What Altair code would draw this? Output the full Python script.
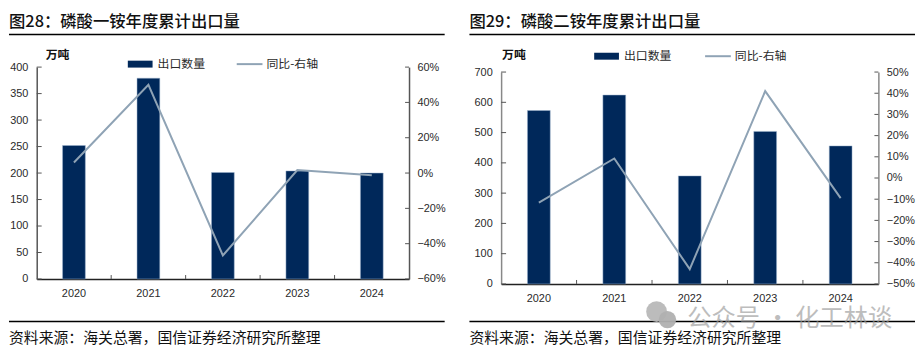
import altair as alt
import pandas as pd

years = ["2020", "2021", "2022", "2023", "2024"]
inner_ticks = ["2021", "2022", "2023", "2024"]

left_title = "图28：磷酸一铵年度累计出口量"
left_qty = [252, 379, 201, 204, 200]
left_yoy = [0.06, 0.50, -0.467, 0.017, -0.013]
left_ticks = [0, 50, 100, 150, 200, 250, 300, 350, 400]
left_yoy_ticks = [-0.6, -0.4, -0.2, 0, 0.2, 0.4, 0.6]

right_title = "图29：磷酸二铵年度累计出口量"
right_qty = [573, 624, 357, 504, 456]
right_yoy = [-0.116, 0.092, -0.43, 0.41, -0.095]
right_ticks = [0, 100, 200, 300, 400, 500, 600, 700]
right_yoy_ticks = [-0.5, -0.4, -0.3, -0.2, -0.1, 0, 0.1, 0.2, 0.3, 0.4, 0.5]

source = "资料来源：海关总署，国信证券经济研究所整理"
unit = "万吨"
bar_name = "出口数量"
line_name = "同比-右轴"
watermark = "公众号 · 化工林谈"

NAVY = "#00285a"
LINE = "#8fa3b5"
AXIS = "#555555"
TEXT = "#2a2a2a"
FONT = "Liberation Sans"
CJK = "Noto Sans CJK SC"
one = pd.DataFrame({"a": [0]})


def txt(s, x, y, size, color="#111111", weight="normal", font=CJK, opacity=1.0):
    return alt.Chart(one).mark_text(
        text=s, align="left", baseline="middle", fontSize=size, color=color,
        fontWeight=weight, font=font, opacity=opacity,
    ).encode(x=alt.value(x), y=alt.value(y))


def hline(x0, x1, y, color="#000000", width=1.5, opacity=1.0):
    return alt.Chart(one).mark_rule(color=color, strokeWidth=width, opacity=opacity).encode(
        x=alt.value(x0), x2=alt.value(x1), y=alt.value(y)
    )


def panel(title, qty, yoy, ticks, yoy_ticks, w, h, top, rule_y, lx, rx, unit_xy, leg, axis_color, extra=None):
    df = pd.DataFrame({"year": years, "qty": qty, "yoy": yoy})
    xscale = alt.Scale(domain=years, paddingInner=0, paddingOuter=0, round=False)
    xaxis = alt.Axis(title=None, labelAngle=0, ticks=False, labelPadding=9, labelFontSize=11,
                     labelColor=TEXT, labelFont=FONT, domainColor="#222222", domainWidth=1.5, grid=False)
    x = alt.X("year:N", scale=xscale, axis=xaxis)
    ys = alt.Scale(domain=[ticks[0], ticks[-1]], range=[h, top], nice=False, zero=False)
    yr = alt.Scale(domain=[yoy_ticks[0], yoy_ticks[-1]], range=[h, top], nice=False, zero=False)
    bars = alt.Chart(df).mark_bar(width=23, color=NAVY, stroke="#9db4cf", strokeWidth=0.5).encode(
        x=x,
        y=alt.Y("qty:Q", scale=ys, axis=alt.Axis(
            title=None, values=ticks, ticks=False, labelPadding=9, labelFontSize=11, labelColor=TEXT,
            labelFont=FONT, domainColor=axis_color, domainWidth=1.5, grid=False, labelFlush=False)),
    )
    line = alt.Chart(df).mark_line(color=LINE, strokeWidth=2).encode(
        x=x,
        y=alt.Y("yoy:Q", scale=yr, axis=alt.Axis(
            title=None, orient="right", format=".0%", values=yoy_ticks, ticks=False, labelPadding=8,
            labelFontSize=11, labelColor=TEXT, labelFont=FONT, domainColor=axis_color, domainWidth=1.5,
            grid=False, labelFlush=False)),
    )
    lt = alt.Chart(pd.DataFrame({"v": ticks})).mark_rule(color=AXIS, strokeWidth=1).encode(
        y=alt.Y("v:Q", scale=ys, axis=None), x=alt.value(0), x2=alt.value(5))
    rt = alt.Chart(pd.DataFrame({"v": yoy_ticks})).mark_rule(color=AXIS, strokeWidth=1).encode(
        y=alt.Y("v:Q", scale=yr, axis=None), x=alt.value(w - 4), x2=alt.value(w))
    xt = alt.Chart(pd.DataFrame({"year": inner_ticks})).mark_rule(color=AXIS, strokeWidth=1).encode(
        x=alt.X("year:N", bandPosition=0, scale=xscale, axis=xaxis),
        y=alt.value(h - 4), y2=alt.value(h))
    layers = [
        bars, line, lt, rt, xt,
        hline(lx, rx, -58, opacity=0),
        txt(title, lx, -46, 16.5, weight=500),
        hline(lx, rx, -33),
        hline(lx, rx, rule_y),
        txt(source, lx, rule_y + 17, 15),
        txt(unit, unit_xy[0], unit_xy[1], 12, weight="bold"),
        alt.Chart(one).mark_rule(color=NAVY, strokeWidth=7).encode(
            x=alt.value(leg[0]), x2=alt.value(leg[0] + 25), y=alt.value(leg[2])),
        txt(bar_name, leg[0] + 30, leg[2], 12, color=TEXT),
        alt.Chart(one).mark_rule(color=LINE, strokeWidth=2).encode(
            x=alt.value(leg[1]), x2=alt.value(leg[1] + 26), y=alt.value(leg[2])),
        txt(line_name, leg[1] + 30, leg[2], 12, color=TEXT),
    ]
    if extra:
        layers += extra
    return alt.layer(*layers).resolve_scale(y="independent").properties(width=w, height=h)


def mark_pt(x, y, size, color, opacity=1.0):
    return alt.Chart(one).mark_point(filled=True, shape="circle", size=size, color=color, opacity=opacity).encode(
        x=alt.value(x), y=alt.value(y))


wm = [
    mark_pt(157, 247, 440, "#b5b5b5", 0.9),
    mark_pt(168, 255, 310, "#b0b0b0", 0.95),
    txt(watermark, 188, 254, 24.5, color="#9a9a9a", opacity=0.65),
]

left = panel(left_title, left_qty, left_yoy, left_ticks, left_yoy_ticks,
             376, 214, 0, 257, -28, 412, (9, -12), (92, 202, -3), "#555555")
right = panel(right_title, right_qty, right_yoy, right_ticks, right_yoy_ticks,
              381, 219, 5, 257, -32, 418, (1, -12), (94, 206, -11), "#888888", wm)

chart = alt.hconcat(left, right, spacing=93, bounds="flush").properties(
    padding=0, background="#ffffff"
).configure_view(stroke=None)

chart.save("out.html", embed_options={"renderer": "svg", "actions": False})
